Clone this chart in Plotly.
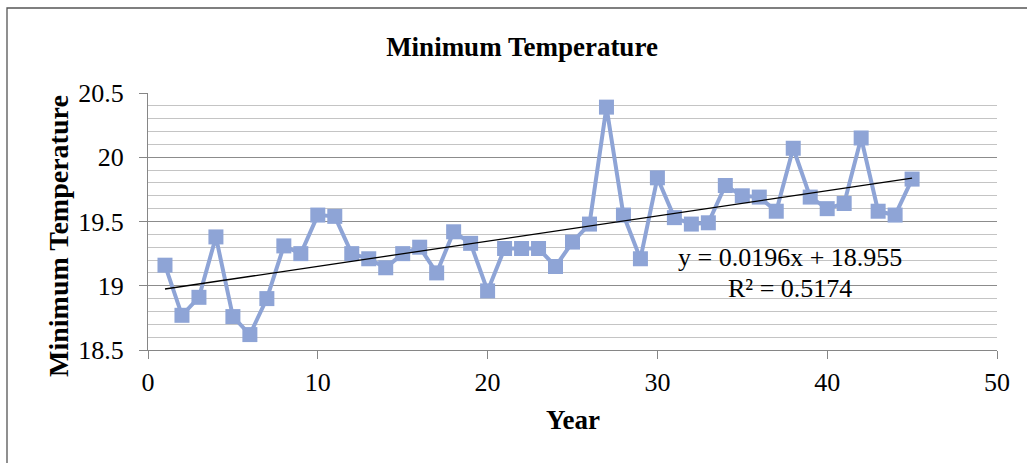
import plotly.graph_objects as go

years = list(range(1, 46))
min_temp = [19.16, 18.77, 18.91, 19.38, 18.76, 18.62, 18.90, 19.31, 19.25, 19.55,
            19.54, 19.25, 19.21, 19.14, 19.25, 19.30, 19.10, 19.42, 19.33, 18.96,
            19.29, 19.29, 19.29, 19.15, 19.34, 19.48, 20.39, 19.55, 19.21, 19.84,
            19.53, 19.48, 19.49, 19.78, 19.70, 19.69, 19.58, 20.07, 19.69, 19.60,
            19.64, 20.15, 19.58, 19.55, 19.83]
trend_slope = 0.0196
trend_intercept = 18.955
r_squared = 0.5174
trend_x = [years[0], years[-1]]
trend_y = [trend_slope * v + trend_intercept for v in trend_x]

title_text = "Minimum Temperature"
y_title = "Minimum Temperature"
x_title = "Year"

FONT = "Liberation Serif, Times New Roman, serif"
SERIES = "#8EA4D6"

fig = go.Figure()
fig.add_trace(go.Scatter(
    x=years, y=min_temp, mode="lines+markers",
    line=dict(color=SERIES, width=4),
    marker=dict(symbol="square", size=15, color=SERIES),
    showlegend=False, cliponaxis=False,
))
fig.add_trace(go.Scatter(
    x=trend_x, y=trend_y, mode="lines",
    line=dict(color="black", width=1.3),
    showlegend=False,
))

fig.update_layout(
    width=1027, height=463,
    margin=dict(l=148, r=30, t=93, b=113, pad=0),
    paper_bgcolor="white", plot_bgcolor="white",
    font=dict(family=FONT, size=26, color="black"),
    title=dict(text="<b>" + title_text + "</b>", x=522 / 1027, xanchor="center",
               y=1 - 47 / 463, yanchor="middle", xref="container", yref="container",
               font=dict(family=FONT, size=27, color="black")),
    xaxis=dict(range=[0, 50], dtick=10, tick0=0, showgrid=False,
               showline=True, linecolor="#868686", linewidth=1.3,
               ticks="outside", ticklen=8, tickcolor="#868686", tickwidth=1.3,
               ticklabelstandoff=1, zeroline=False,
               tickfont=dict(family=FONT, size=26, color="black")),
    yaxis=dict(range=[18.5, 20.5], dtick=0.5, tick0=18.5,
               showgrid=True, gridcolor="#8C8C8C", gridwidth=1.3,
               minor=dict(dtick=0.1, showgrid=True, gridcolor="#C4C4C4", gridwidth=1.3),
               showline=True, linecolor="#868686", linewidth=1.3,
               ticks="outside", ticklen=8, tickcolor="#868686", tickwidth=1.3,
               ticklabelstandoff=10, zeroline=False,
               tickfont=dict(family=FONT, size=26, color="black")),
)

fig.add_annotation(text="<b>" + y_title + "</b>", xref="paper", yref="paper",
                   x=(58 - 148) / 849, y=(350 - 236) / 257, textangle=-90,
                   xanchor="center", yanchor="middle", showarrow=False,
                   font=dict(family=FONT, size=28, color="black"))
fig.add_annotation(text="<b>" + x_title + "</b>", xref="paper", yref="paper",
                   x=0.5, y=(350 - 420) / 257, xanchor="center", yanchor="middle",
                   showarrow=False, font=dict(family=FONT, size=27, color="black"))
fig.add_annotation(text=f"y = {trend_slope}x + {trend_intercept}", x=37.8, y=19.216,
                   xanchor="center", yanchor="middle", showarrow=False,
                   font=dict(family=FONT, size=26, color="black"))
fig.add_annotation(text=f"R² = {r_squared}", x=37.8, y=18.98,
                   xanchor="center", yanchor="middle", showarrow=False,
                   font=dict(family=FONT, size=26, color="black"))

fig.add_shape(type="rect", xref="paper", yref="paper",
              x0=(7 - 148) / 849, x1=(1045 - 148) / 849,
              y0=(350 - 475) / 257, y1=(350 - 8) / 257,
              line=dict(color="#555555", width=1.3), fillcolor="rgba(0,0,0,0)", layer="below")

fig.write_html("out.html")
